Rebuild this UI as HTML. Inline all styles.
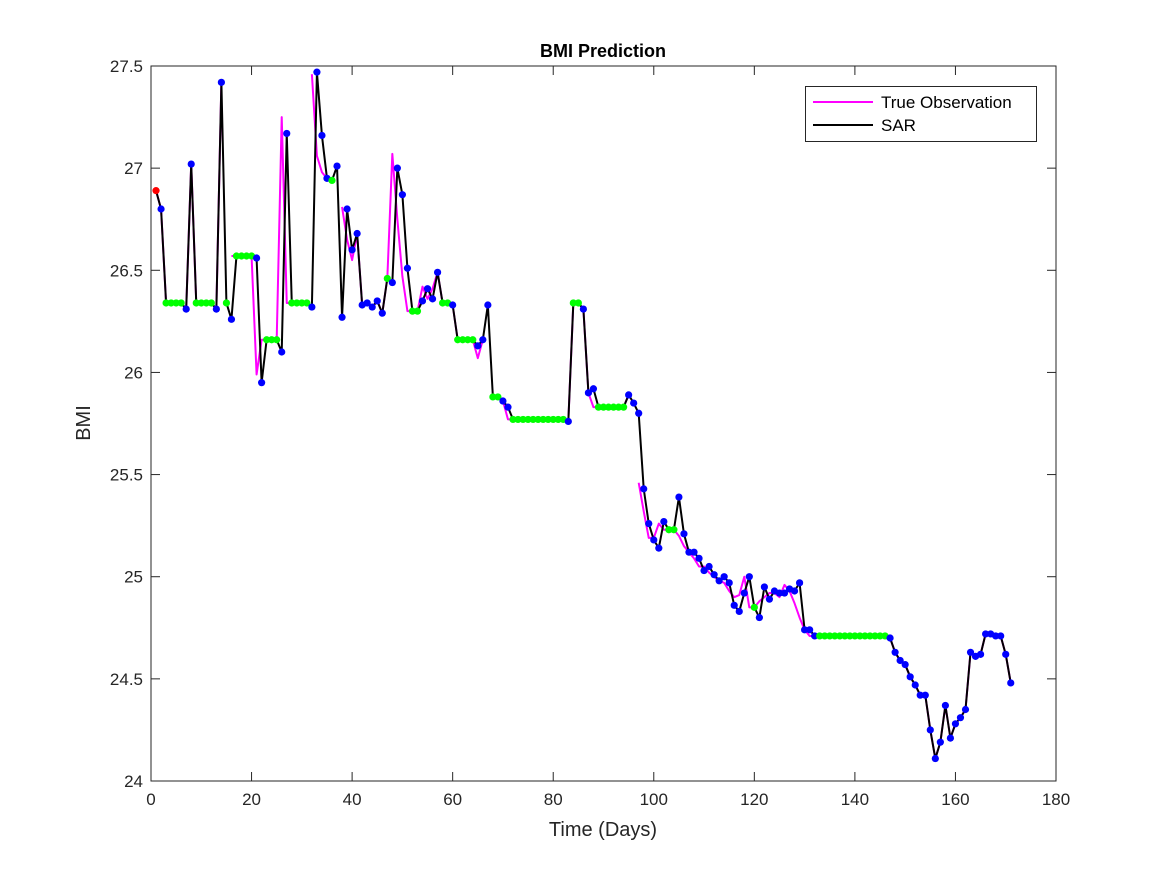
<!DOCTYPE html>
<html>
<head>
<meta charset="utf-8">
<style>
html,body{margin:0;padding:0;background:#fff;}
#chart{position:absolute;left:0;top:0;}
text{font-family:"Liberation Sans",Arial,sans-serif;}
</style>
</head>
<body>
<svg id="chart" width="1167" height="875" viewBox="0 0 1167 875" xmlns="http://www.w3.org/2000/svg">
  <rect x="0" y="0" width="1167" height="875" fill="#fff"/>
  <rect x="151" y="66" width="905" height="715" fill="#fff"/>
  <g id="series"></g>
  <rect x="151" y="66" width="905" height="715" fill="none" stroke="#262626" stroke-width="1"/>
  <g id="ticks"></g>
  <text x="603" y="57" text-anchor="middle" font-size="18" font-weight="bold" fill="#000">BMI Prediction</text>
  <text x="603" y="836" text-anchor="middle" font-size="20" fill="#262626">Time (Days)</text>
  <text x="90" y="423" text-anchor="middle" font-size="20" fill="#262626" transform="rotate(-90 90 423)">BMI</text>
  <g>
    <rect x="805.5" y="86.5" width="231" height="55" fill="#fff" stroke="#262626" stroke-width="1"/>
    <line x1="813" y1="102" x2="873" y2="102" stroke="#ff00ff" stroke-width="2"/>
    <text x="881" y="108" font-size="17" fill="#000">True Observation</text>
    <line x1="813" y1="125" x2="873" y2="125" stroke="#000" stroke-width="2"/>
    <text x="881" y="131" font-size="17" fill="#000">SAR</text>
  </g>
</svg>
<script>
// ---- data ----
const xTicks = [0,20,40,60,80,100,120,140,160,180];
const yTicks = [24,24.5,25,25.5,26,26.5,27,27.5];
const yTickLabels = ["24","24.5","25","25.5","26","26.5","27","27.5"];
const sarValues = [
26.89,26.80,26.34,26.34,26.34,26.34,26.31,27.02,26.34,26.34,
26.34,26.34,26.31,27.42,26.34,26.26,26.57,26.57,26.57,26.57,
26.56,25.95,26.16,26.16,26.16,26.10,27.17,26.34,26.34,26.34,
26.34,26.32,27.47,27.16,26.95,26.94,27.01,26.27,26.80,26.60,
26.68,26.33,26.34,26.32,26.35,26.29,26.46,26.44,27.00,26.87,
26.51,26.30,26.30,26.35,26.41,26.36,26.49,26.34,26.34,26.33,
26.16,26.16,26.16,26.16,26.13,26.16,26.33,25.88,25.88,25.86,
25.83,25.77,25.77,25.77,25.77,25.77,25.77,25.77,25.77,25.77,
25.77,25.77,25.76,26.34,26.34,26.31,25.90,25.92,25.83,25.83,
25.83,25.83,25.83,25.83,25.89,25.85,25.80,25.43,25.26,25.18,
25.14,25.27,25.23,25.23,25.39,25.21,25.12,25.12,25.09,25.03,
25.05,25.01,24.98,25.00,24.97,24.86,24.83,24.92,25.00,24.85,
24.80,24.95,24.89,24.93,24.92,24.92,24.94,24.93,24.97,24.74,
24.74,24.71,24.71,24.71,24.71,24.71,24.71,24.71,24.71,24.71,
24.71,24.71,24.71,24.71,24.71,24.71,24.70,24.63,24.59,24.57,
24.51,24.47,24.42,24.42,24.25,24.11,24.19,24.37,24.21,24.28,
24.31,24.35,24.63,24.61,24.62,24.72,24.72,24.71,24.71,24.62,
24.48];
const trueValues = [
26.89,26.80,26.34,26.34,26.34,26.34,26.31,27.02,26.34,26.34,
26.34,26.34,26.31,27.42,null,26.57,26.57,26.57,26.57,26.57,
25.99,26.16,26.16,26.16,26.16,27.25,26.34,26.34,26.34,26.34,
null,27.46,27.06,26.98,26.95,26.94,null,26.81,26.65,26.55,
26.68,26.33,26.34,26.32,26.35,26.29,26.46,27.07,26.75,26.47,
26.30,26.30,26.30,26.42,26.36,26.41,26.49,26.34,26.34,26.33,
26.16,26.16,26.16,26.16,26.07,26.16,null,25.88,25.88,25.86,
25.77,25.77,25.77,25.77,25.77,25.77,25.77,25.77,25.77,25.77,
25.77,25.77,25.76,26.34,26.34,26.31,25.90,25.83,25.83,25.83,
25.83,25.83,25.83,25.83,25.89,null,25.46,25.32,25.19,25.19,
25.26,25.23,25.23,25.23,25.20,25.15,25.12,25.09,25.05,25.05,
25.02,25.00,24.98,24.97,24.93,24.90,24.91,25.00,24.85,24.85,
24.88,24.90,24.92,24.92,24.90,24.96,24.93,24.87,24.80,24.74,
24.71,24.71,24.71,24.71,24.71,24.71,24.71,24.71,24.71,24.71,
24.71,24.71,24.71,24.71,24.71,24.71,24.70,24.63,24.59,24.57,
24.51,24.47,24.42,24.42,24.25,24.11,24.19,24.37,24.21,24.28,
24.31,24.35,24.63,24.61,24.62,24.72,24.72,24.71,24.71,24.62,
24.48];
const imputedDays = [3,4,5,6,9,10,11,12,15,17,18,19,20,23,24,25,28,29,30,31,36,47,52,53,58,59,61,62,63,64,68,69,72,73,74,75,76,77,78,79,80,81,82,84,85,89,90,91,92,93,94,103,104,120,133,134,135,136,137,138,139,140,141,142,143,144,145,146];
const startDays = [1];

// ---- axes ----
const X0=151,X1=1056,Y0=781,Y1=66;
const xMin=0,xMax=180,yMin=24,yMax=27.5;
function xs(v){return X0+(v-xMin)/(xMax-xMin)*(X1-X0);}
function ys(v){return Y0-(v-yMin)/(yMax-yMin)*(Y0-Y1);}
const NS="http://www.w3.org/2000/svg";
function mk(tag,attrs,parent){const e=document.createElementNS(NS,tag);for(const k in attrs)e.setAttribute(k,attrs[k]);parent.appendChild(e);return e;}

const ticks=document.getElementById('ticks');
xTicks.forEach((t)=>{
  const x=xs(t);
  const l1=mk('line',{x1:x,y1:Y0,x2:x,y2:Y0-9,stroke:'#262626','stroke-width':1},ticks);
  
  
  const l2=mk('line',{x1:x,y1:Y1,x2:x,y2:Y1+9,stroke:'#262626','stroke-width':1},ticks);
  
  
  const tx=mk('text',{x:x,y:Y0+24,'text-anchor':'middle','font-size':17,fill:'#262626'},ticks);
  tx.textContent=String(t);
  
  
});
yTicks.forEach((t,i)=>{
  const y=ys(t);
  const l1=mk('line',{x1:X0,y1:y,x2:X0+9,y2:y,stroke:'#262626','stroke-width':1},ticks);
  
  
  const l2=mk('line',{x1:X1,y1:y,x2:X1-9,y2:y,stroke:'#262626','stroke-width':1},ticks);
  
  
  const tx=mk('text',{x:X0-8,y:y+6,'text-anchor':'end','font-size':17,fill:'#262626'},ticks);
  tx.textContent=yTickLabels[i];
  
  
});

// ---- series ----
const g=document.getElementById('series');
function pathOf(arr){
  let d='',pen=false;
  arr.forEach((v,i)=>{
    if(v===null){pen=false;return;}
    d+=(pen?'L':'M')+xs(i+1).toFixed(2)+' '+ys(v).toFixed(2)+' ';
    pen=true;
  });
  return d;
}
const tp=mk('path',{d:pathOf(trueValues),fill:'none',stroke:'#ff00ff','stroke-width':2,'stroke-linejoin':'round'},g);


const sp=mk('path',{d:pathOf(sarValues),fill:'none',stroke:'#000','stroke-width':2,'stroke-linejoin':'round'},g);


sarValues.forEach((v,i)=>{
  const day=i+1;
  let col='#0000ff',nm='sar-point';
  if(imputedDays.includes(day)){col='#00ff00';nm='imputed-point';}
  if(startDays.includes(day)){col='#ff0000';nm='start-point';}
  const c=mk('circle',{cx:xs(day),cy:ys(v),r:3.6,fill:col},g);
  
  
});
</script>
</body>
</html>
